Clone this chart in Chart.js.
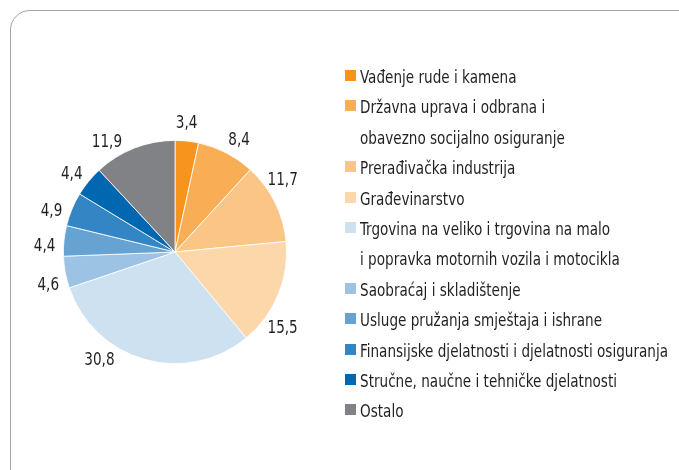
<!DOCTYPE html>
<html lang="bs">
<head>
  <meta charset="UTF-8">
  <title>Struktura</title>
  <script src="https://cdn.jsdelivr.net/npm/chart.js"></script>
  <style>
    html, body { margin: 0; padding: 0; background: #fff; }
    .wrap { position: relative; width: 679px; height: 470px; overflow: hidden; }
    .frame {
      position: absolute; left: 10px; top: 10px; width: 690px; height: 480px;
      border: 1.5px solid #a4a4a4; border-radius: 20px; box-sizing: border-box;
    }
    #chart { position: absolute; left: 0; top: 0; }
    .legend {
      position: absolute; left: 345px; top: 62px; margin: 0; padding: 0; list-style: none;
      font-family: "DejaVu Sans Condensed", sans-serif;
      font-size: 17.5px; color: #231f20; line-height: 30.4px;
    }
    .legend li { position: relative; padding-left: 15px; white-space: nowrap; }
    .legend li .sw {
      position: absolute; left: 0; top: 8px; width: 11px; height: 11px;
    }
    .legend li .tx { display: inline-block; transform-origin: 0 50%; }
  </style>
</head>
<body>
<div class="wrap">
  <div class="frame"></div>
  <canvas id="chart" width="679" height="470"></canvas>
  <ul class="legend" id="legend"></ul>
</div>
<script>
  // kategorije i udjeli (%)
  const categories = [
    ["Vađenje rude i kamena"],
    ["Državna uprava i odbrana i", "obavezno socijalno osiguranje"],
    ["Prerađivačka industrija"],
    ["Građevinarstvo"],
    ["Trgovina na veliko i trgovina na malo", "i popravka motornih vozila i motocikla"],
    ["Saobraćaj i skladištenje"],
    ["Usluge pružanja smještaja i ishrane"],
    ["Finansijske djelatnosti i djelatnosti osiguranja"],
    ["Stručne, naučne i tehničke djelatnosti"],
    ["Ostalo"]
  ];
  const values = [3.4, 8.4, 11.7, 15.5, 30.8, 4.6, 4.4, 4.9, 4.4, 11.9];
  const colors = ["#f7941d", "#f9ae55", "#fbc586", "#fcd7aa", "#cde1f0",
                  "#9cc3e3", "#66a3d2", "#3485c3", "#0067b0", "#808285"];
  // ručno pomjerene oznake (stepeni od sredine isječka)
  const labelShiftDeg = [-1, 2, -8, 12, 19.5, -3.5, -2.5, -3.5, -1.5, -10];

  const fontCss = '17.5px "DejaVu Sans Condensed", sans-serif';

  // uski font: sabijamo tekst vodoravno da odgovara širini originala
  const probe = document.createElement('canvas').getContext('2d');
  probe.font = fontCss;
  const squeeze = 308 / probe.measureText(categories[7][0]).width;

  const outsideLabels = {
    id: 'outsideLabels',
    afterDatasetsDraw(chart) {
      const ctx = chart.ctx;
      const meta = chart.getDatasetMeta(0);
      ctx.save();
      ctx.font = fontCss;
      ctx.fillStyle = '#231f20';
      ctx.textAlign = 'center';
      ctx.textBaseline = 'middle';
      meta.data.forEach((arc, i) => {
        const p = arc.getProps(['x', 'y', 'startAngle', 'endAngle', 'outerRadius'], true);
        const a = (p.startAngle + p.endAngle) / 2 + labelShiftDeg[i] * Math.PI / 180;
        const r = p.outerRadius + 19;
        const txt = values[i].toFixed(1).replace('.', ',');
        ctx.save();
        ctx.translate(p.x + Math.cos(a) * r, p.y + Math.sin(a) * r + 2);
        ctx.scale(squeeze, 1);
        ctx.fillText(txt, 0, 0);
        ctx.restore();
      });
      ctx.restore();
    }
  };

  new Chart(document.getElementById('chart'), {
    type: 'pie',
    data: {
      labels: categories.map(c => c.join(' ')),
      datasets: [{
        data: values,
        backgroundColor: colors,
        borderColor: '#ffffff',
        borderWidth: 0.8
      }]
    },
    options: {
      responsive: false,
      animation: false,
      layout: { padding: { left: 63, top: 140, right: 392, bottom: 106 } },
      plugins: { legend: { display: false }, tooltip: { enabled: false } }
    },
    plugins: [outsideLabels]
  });

  const legend = document.getElementById('legend');
  categories.forEach((lines, i) => {
    const li = document.createElement('li');
    const sw = document.createElement('span');
    sw.className = 'sw';
    sw.style.background = colors[i];
    li.appendChild(sw);
    lines.forEach((line, k) => {
      if (k > 0) li.appendChild(document.createElement('br'));
      const tx = document.createElement('span');
      tx.className = 'tx';
      tx.style.transform = 'scaleX(' + squeeze + ')';
      tx.textContent = line;
      li.appendChild(tx);
    });
    legend.appendChild(li);
  });
</script>
</body>
</html>
